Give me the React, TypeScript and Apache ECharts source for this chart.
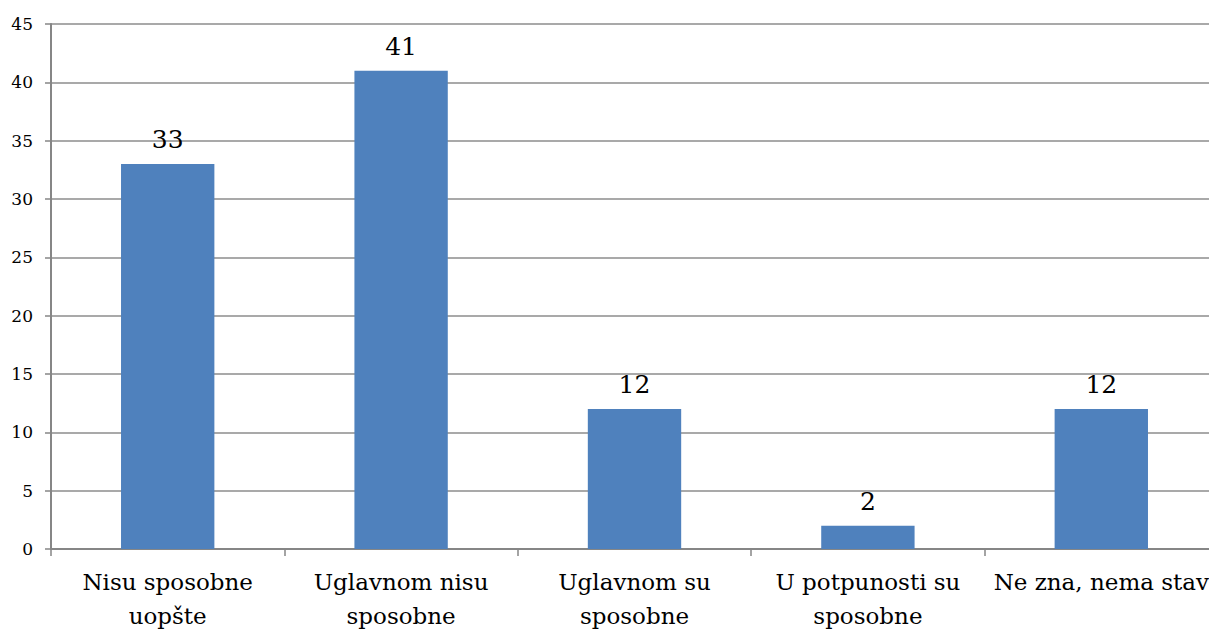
import React, { useEffect, useRef } from "react";
import * as echarts from "echarts";

const categories = [
  "Nisu sposobne\nuopšte",
  "Uglavnom nisu\nsposobne",
  "Uglavnom su\nsposobne",
  "U potpunosti su\nsposobne",
  "Ne zna, nema stav",
];
const values = [33, 41, 12, 2, 12];
const yTicks = { min: 0, max: 45, interval: 5 };

export default function App() {
  const ref = useRef<HTMLDivElement>(null);
  useEffect(() => {
    if (!ref.current) return;
    const chart = echarts.init(ref.current, null, { renderer: "svg" });
    const font = "DejaVu Serif";
    chart.setOption({
      animation: false,
      backgroundColor: "#ffffff",
      grid: {
        left: 51,
        top: 24,
        right: -9,
        bottom: 84,
        containLabel: false,
        outerBoundsMode: "none",
      },
      xAxis: {
        type: "category",
        data: categories,
        axisLine: { show: true, lineStyle: { color: "#868686", width: 2 } },
        axisTick: { show: true, length: 7, lineStyle: { color: "#868686", width: 1.5 } },
        axisLabel: {
          color: "#000",
          fontFamily: font,
          fontSize: 23,
          lineHeight: 34,
          margin: 16,
          interval: 0,
        },
        splitLine: { show: false },
      },
      yAxis: {
        type: "value",
        min: yTicks.min,
        max: yTicks.max,
        interval: yTicks.interval,
        axisLine: { show: true, lineStyle: { color: "#868686", width: 2 } },
        axisTick: { show: true, length: 6, lineStyle: { color: "#868686", width: 1.5 } },
        axisLabel: {
          color: "#000",
          fontFamily: font,
          fontSize: 17,
          margin: 18,
        },
        splitLine: { show: true, lineStyle: { color: "#8c8c8c", width: 1.5 } },
      },
      series: [
        {
          type: "bar",
          data: values,
          barWidth: "40%",
          itemStyle: { color: "#4F81BD" },
          label: {
            show: true,
            position: "top",
            distance: 12,
            color: "#000",
            fontFamily: font,
            fontSize: 25,
          },
        },
      ],
    });
    return () => chart.dispose();
  }, []);
  return (
    <div
      ref={ref}
      style={{ position: "fixed", left: 0, top: 0, width: 1209, height: 633, background: "#fff" }}
    />
  );
}
